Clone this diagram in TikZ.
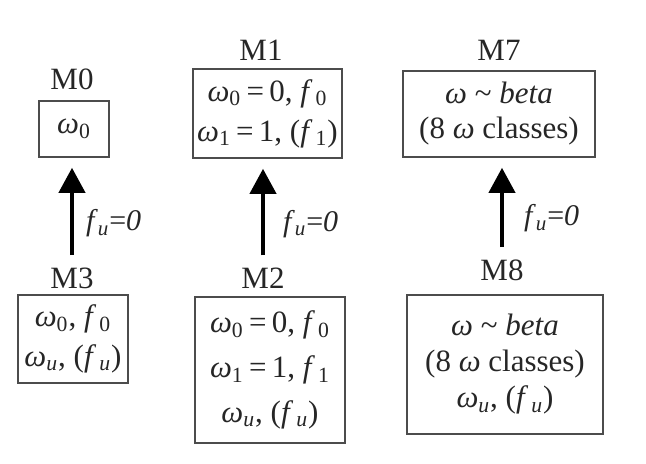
\documentclass[tikz,border=0pt]{standalone}
\usepackage{fontspec}
\setmainfont{Liberation Serif}
\usetikzlibrary{arrows.meta}
\newcommand{\om}[1]{\textit{ω}\textsubscript{#1}}
\newcommand{\fs}[1]{\textit{f}\hspace{0.1em}\textsubscript{#1}}
\newcommand{\iu}{\textit{u}}
\newcommand{\eqs}{\hspace{0.17em}=\hspace{0.17em}}
\begin{document}
\begin{tikzpicture}[x=0.5pt,y=-0.5pt,
    model/.style={draw=black!70,line width=0.8pt,align=center,inner sep=0pt,
      text=black!85,font=\fontsize{15.5}{20}\selectfont},
    mname/.style={inner sep=0pt,text=black!85,font=\fontsize{15.5}{17}\selectfont},
    cond/.style={right,inner sep=0pt,text=black!85,font=\fontsize{15}{17}\selectfont},
    uparrow/.style={-{Triangle[width=13pt,length=12.5pt]},line width=2pt,
      shorten >=5pt,shorten <=6pt}]
\useasboundingbox (0,0) rectangle (646,464);
% top row
\node[mname] (n0) at (72,79) {M0};
\node[model,minimum width=35pt,minimum height=28pt] (m0) at (74,129) {\om{0}};
\node[mname] (n1) at (261,50) {M1};
\node[model,minimum width=74.5pt,minimum height=44.5pt] (m1) at (267.5,113.5)
  {\om{0}\eqs0, \fs{0}\\ \om{1}\eqs1, (\fs{1})};
\node[mname] (n7) at (499,50) {M7};
\node[model,minimum width=96pt,minimum height=43pt,
  font=\fontsize{15.5}{17.5}\selectfont] (m7) at (499,114)
  {\textit{ω} \textasciitilde{} \textit{beta}\\ (8 \textit{ω} classes)};
% bottom row
\node[mname] (n3) at (72,278) {M3};
\node[model,minimum width=55pt,minimum height=44pt] (m3) at (73,339)
  {\om{0}, \fs{0}\\ \om{\iu}, (\fs{\iu})};
\node[mname] (n2) at (263,278) {M2};
\node[model,minimum width=75pt,minimum height=73pt] (m2) at (270,370)
  {\om{0}\eqs0, \fs{0}\\[2.5pt] \om{1}\eqs1, \fs{1}\\[2.5pt] \om{\iu}, (\fs{\iu})};
\node[mname] (n8) at (502,270) {M8};
\node[model,minimum width=98pt,minimum height=69.5pt,
  font=\fontsize{15.5}{18}\selectfont] (m8) at (505,364.5)
  {\textit{ω} \textasciitilde{} \textit{beta}\\ (8 \textit{ω} classes)\\ \om{\iu}, (\fs{\iu})};
% nesting arrows
\draw[uparrow] (n3.north) -- (n3.north |- m0.south)
  node[cond,pos=0.4,xshift=6pt] {\textit{f}\textsubscript{\iu}=\textit{0}};
\draw[uparrow] (n2.north) -- (n2.north |- m1.south)
  node[cond,pos=0.4,xshift=9pt] {\textit{f}\textsubscript{\iu}=\textit{0}};
\draw[uparrow] (n8.north) -- (n8.north |- m7.south)
  node[cond,pos=0.4,xshift=10pt] {\textit{f}\textsubscript{\iu}=\textit{0}};
\end{tikzpicture}
\end{document}
